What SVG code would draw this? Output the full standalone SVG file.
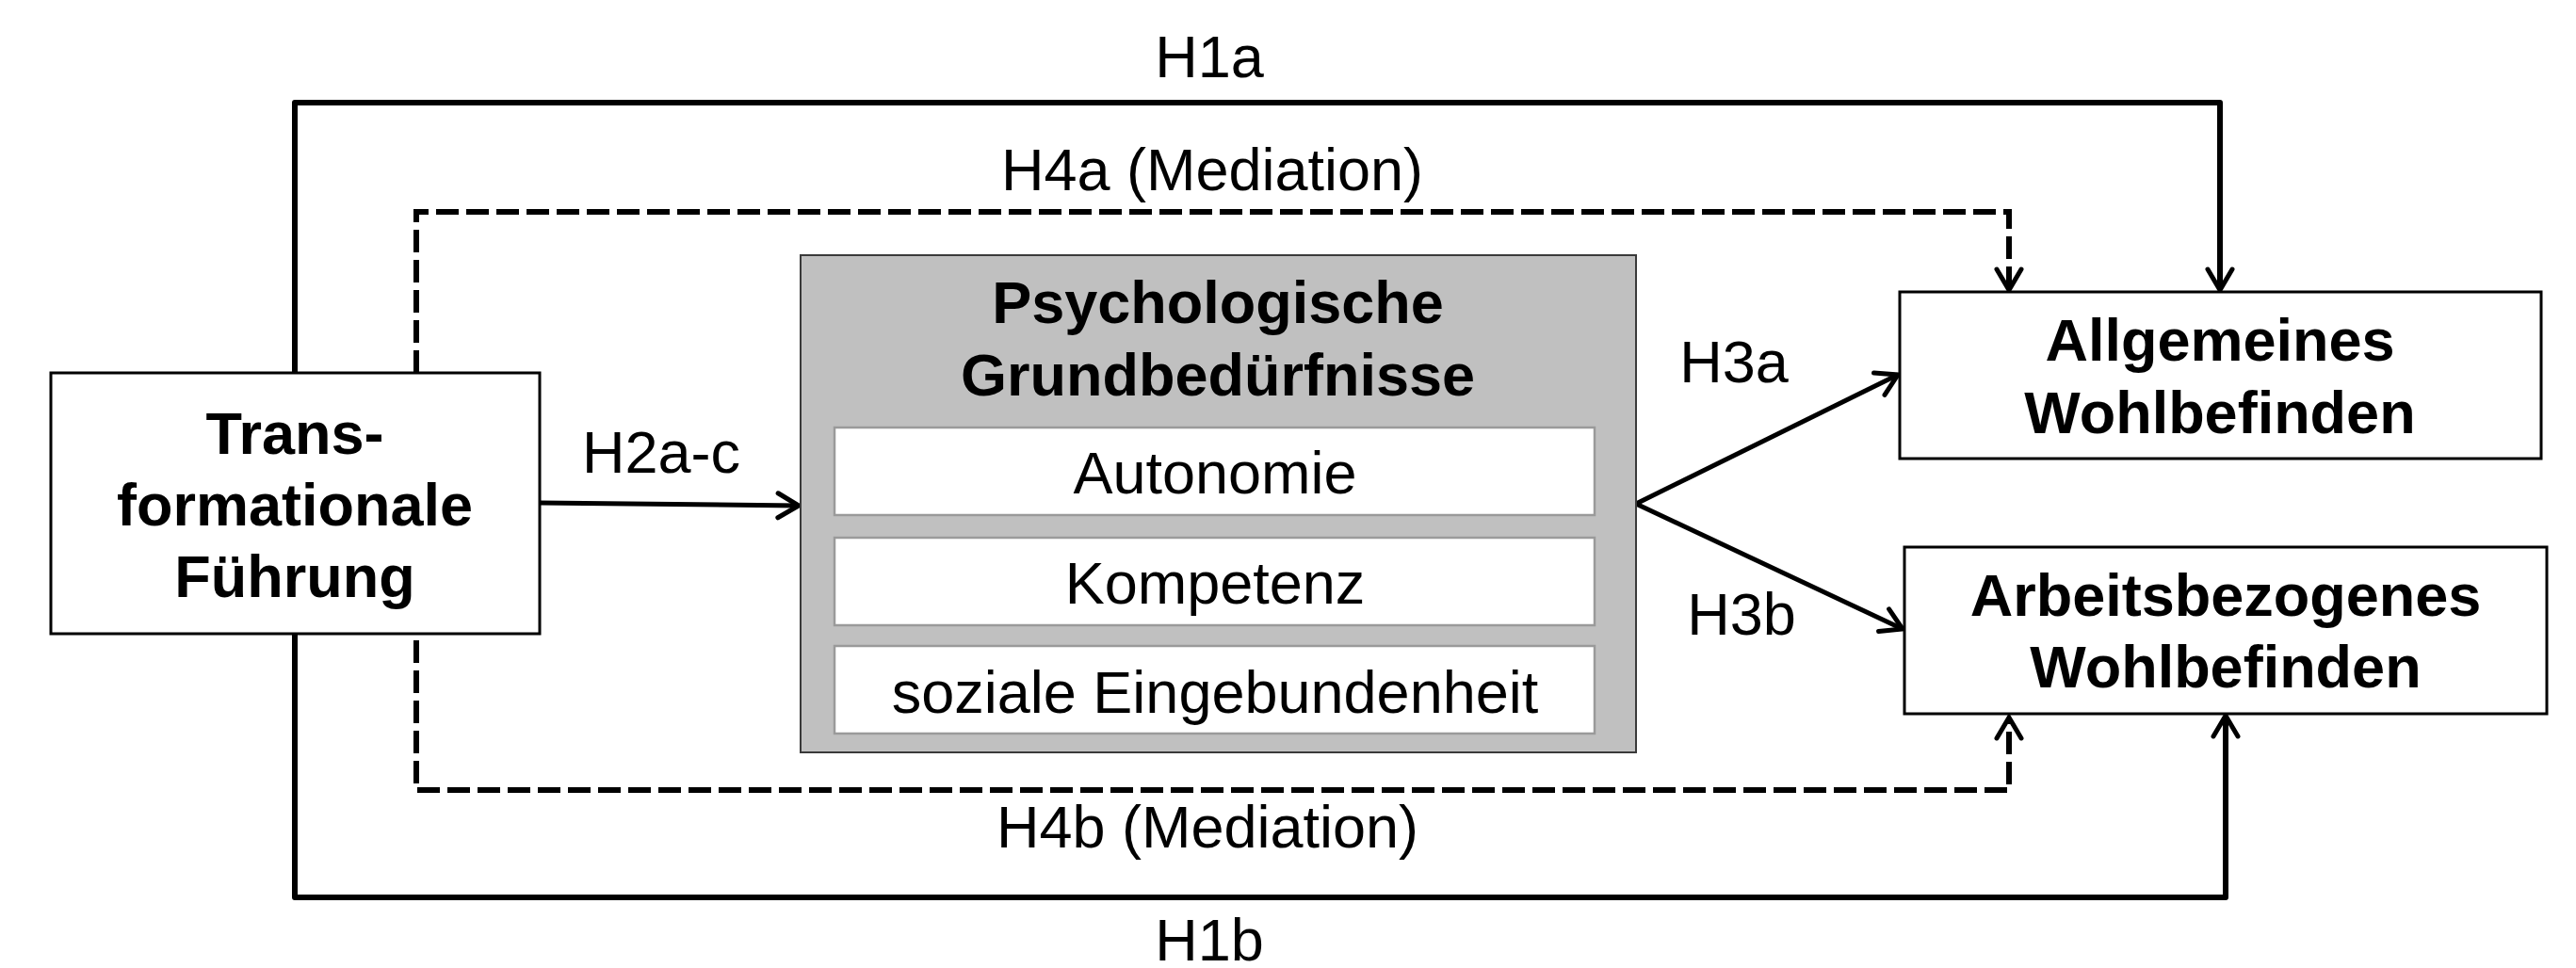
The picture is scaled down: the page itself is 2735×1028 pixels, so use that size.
<svg xmlns="http://www.w3.org/2000/svg" width="2735" height="1028" viewBox="0 0 2735 1028">
  <style>
    .box { fill: #ffffff; stroke: #000000; stroke-width: 3; }
    .grp { fill: #c0c0c0; stroke: #3a3a3a; stroke-width: 2; }
    .inner { fill: #ffffff; stroke: #9a9a9a; stroke-width: 2.5; }
    .t { font-family: "Liberation Sans", Arial, sans-serif; font-size: 63px; fill: #000000; text-anchor: middle; }
    .b { font-weight: bold; }
    .solid { fill: none; stroke: #000000; stroke-width: 6; stroke-linejoin: round; }
    .thin { fill: none; stroke: #000000; stroke-width: 5; }
    .dash { fill: none; stroke: #000000; stroke-width: 6; stroke-dasharray: 24 8; }
  </style>
  <defs>
    <marker id="arr" markerUnits="userSpaceOnUse" viewBox="-30 -20 40 40" refX="0" refY="0" markerWidth="40" markerHeight="40" orient="auto" overflow="visible">
      <path d="M-22,-13 L0,0 L-22,13" fill="none" stroke="#000000" stroke-width="5" stroke-dasharray="none" stroke-linecap="round" stroke-linejoin="miter"/>
    </marker>
  </defs>
  <rect width="2735" height="1028" fill="#ffffff"/>

  <g id="connectors">
    <path id="h1a" class="solid" d="M313,396 V109 H2357 V308" marker-end="url(#arr)"/>
    <path id="h1b" class="solid" d="M313,673 V953 H2363 V760" marker-end="url(#arr)"/>
    <path id="h4a" class="dash" d="M442,396 V225 H2133 V308" marker-end="url(#arr)"/>
    <path id="h4b" class="dash" d="M442,680 V839 H2133 V762" marker-end="url(#arr)"/>
    <path id="h2" class="thin" d="M573,534 L848,537" marker-end="url(#arr)"/>
    <path id="h3a" class="thin" d="M1737,535 L2015,398" marker-end="url(#arr)"/>
    <path id="h3b" class="thin" d="M1737,535 L2020,668" marker-end="url(#arr)"/>
    <text class="t" x="1284" y="82">H1a</text>
    <text class="t" x="1287" y="202">H4a (Mediation)</text>
    <text class="t" x="1282" y="900">H4b (Mediation)</text>
    <text class="t" x="1284" y="1020">H1b</text>
    <text class="t" x="702" y="502">H2a-c</text>
    <text class="t" x="1841" y="406">H3a</text>
    <text class="t" x="1849" y="674">H3b</text>
  </g>

  <g id="node-tf">
    <rect class="box" x="54" y="396" width="519" height="277"/>
    <text class="t b" x="313" y="482">Trans-</text>
    <text class="t b" x="313" y="558">formationale</text>
    <text class="t b" x="313" y="634">Führung</text>
  </g>

  <g id="node-pg">
    <rect class="grp" x="850" y="271" width="887" height="528"/>
    <text class="t b" x="1293" y="343">Psychologische</text>
    <text class="t b" x="1293" y="420">Grundbedürfnisse</text>
  </g>
  <g id="node-autonomie">
    <rect class="inner" x="886" y="454" width="807" height="93"/>
    <text class="t" x="1290" y="524">Autonomie</text>
  </g>
  <g id="node-kompetenz">
    <rect class="inner" x="886" y="571" width="807" height="93"/>
    <text class="t" x="1290" y="641">Kompetenz</text>
  </g>
  <g id="node-soziale">
    <rect class="inner" x="886" y="686" width="807" height="93"/>
    <text class="t" x="1290" y="757">soziale Eingebundenheit</text>
  </g>

  <g id="node-aw">
    <rect class="box" x="2017" y="310" width="681" height="177"/>
    <text class="t b" x="2357" y="383">Allgemeines</text>
    <text class="t b" x="2357" y="460">Wohlbefinden</text>
  </g>
  <g id="node-abw">
    <rect class="box" x="2022" y="581" width="682" height="177"/>
    <text class="t b" x="2363" y="654">Arbeitsbezogenes</text>
    <text class="t b" x="2363" y="730">Wohlbefinden</text>
  </g>
</svg>
